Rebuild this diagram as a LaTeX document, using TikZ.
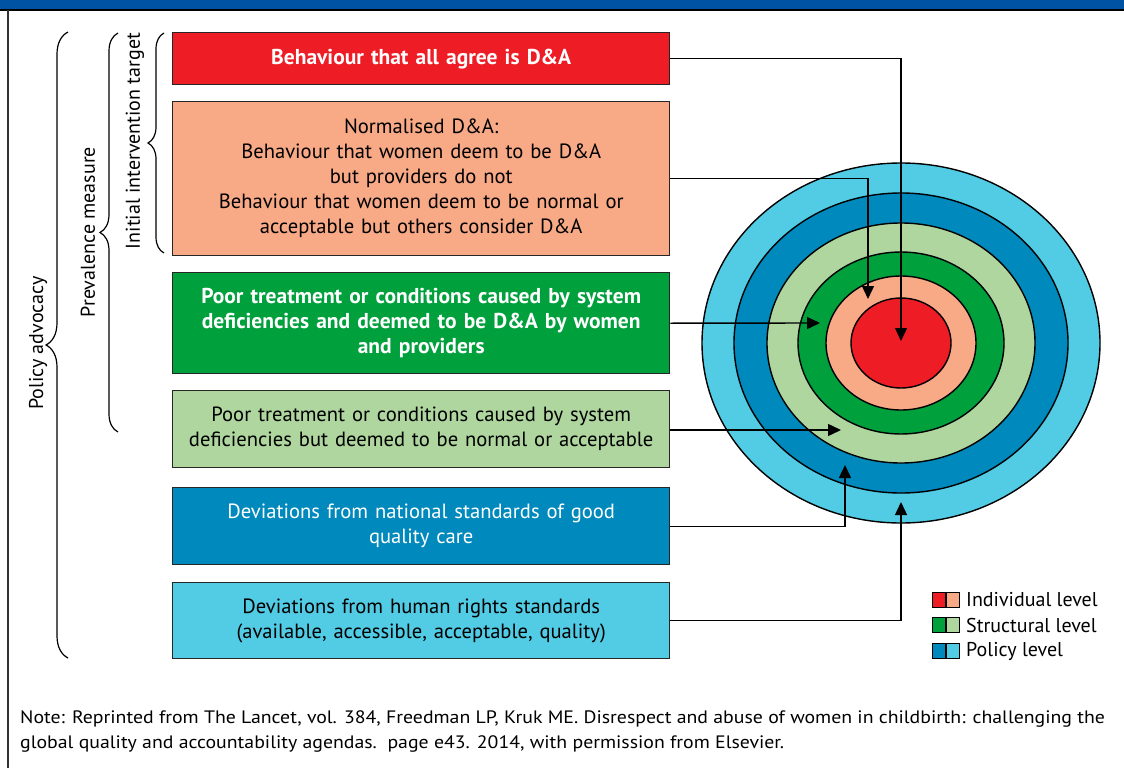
\documentclass[tikz,border=0pt]{standalone}
\usepackage{fontspec}
\setmainfont{PT Sans}
\newfontfamily\notefont{PT Sans}[FakeStretch=1.1]
\usetikzlibrary{arrows.meta,decorations.pathreplacing,positioning}

\definecolor{barblue}{HTML}{0052A2}
\definecolor{dared}{HTML}{EE1C25}
\definecolor{dasalmon}{HTML}{F8A986}
\definecolor{dagreen}{HTML}{00A03C}
\definecolor{dalgreen}{HTML}{AED69E}
\definecolor{dablue}{HTML}{0089BC}
\definecolor{dalblue}{HTML}{52CBE4}

\tikzset{
	dabox/.style={draw=black!85, line width=1.4pt, minimum width=497pt, text width=490pt, align=center, anchor=north west, inner sep=0pt, font=\fontsize{20.6}{25}\selectfont},
	boldbox/.style={text=white, font=\fontsize{21.5}{25}\selectfont\bfseries},
	link/.style={line width=1.4pt, -{Triangle[length=13pt,width=12pt]}},
	bracket/.style={decorate, decoration={brace, amplitude=#1}, line width=1.2pt},
	legsq/.style={draw=black, line width=1.2pt, minimum width=13pt, minimum height=15pt, inner sep=0pt},
	sidelab/.style={rotate=90, font=\fontsize{20}{22}\selectfont},
	leglab/.style={anchor=west, inner sep=0pt, font=\fontsize{20}{22}\selectfont},
}

\begin{document}
\begin{tikzpicture}[x=1pt, y=-1pt]
			\useasboundingbox (0,0) rectangle (1124,768);
			%frame
			\fill[barblue] (0,0) rectangle (1124,9);
			\draw[line width=2pt] (0,10) -- (1124,10);
			\draw[line width=1.4pt, black!80] (8,10) -- (8,768);
			
			%boxes
			\node[dabox, boldbox, fill=dared, minimum height=52pt] (agree) at (172,32) {Behaviour that all agree is D\&A};
			\node[dabox, fill=dasalmon, minimum height=154pt] (normal) at (172,101) {Normalised D\&A:\\Behaviour that women deem to be D\&A\\but providers do not\\Behaviour that women deem to be normal or\\acceptable but others consider D\&A};
			\node[dabox, boldbox, fill=dagreen, minimum height=101pt] (sysda) at (172,272) {Poor treatment or conditions caused by system\\deficiencies and deemed to be D\&A by women\\and providers};
			\node[dabox, fill=dalgreen, minimum height=77pt] (sysok) at (172,390) {Poor treatment or conditions caused by system\\deficiencies but deemed to be normal or acceptable};
			\node[dabox, fill=dablue, minimum height=77pt, text=white] (natstd) at (172,487) {Deviations from national standards of good\\quality care};
			\node[dabox, fill=dalblue, minimum height=76pt] (rights) at (172,582) {Deviations from human rights standards\\(available, accessible, acceptable, quality)};
			
			%braces
			\draw[bracket=22pt] (68,658) -- (68,32);
			\draw[bracket=18pt] (118,432) -- (118,33);
			\draw[bracket=16pt] (164,253) -- (164,33);
			\node[sidelab] (advocacy) at (38,343) {Policy advocacy};
			\node[sidelab] (prevalence) at (88,232) {Prevalence measure};
			\node[sidelab] (initial) at (135,141) {Initial intervention target};
			
			%rings
			\coordinate (ctr) at (901,343);
			\foreach \rx/\ry/\col in {199/180/dalblue, 167/150/dablue, 134/120/dalgreen, 103/91/dagreen, 75/67/dasalmon, 50/45/dared}{
				\draw[line width=1.4pt, fill=\col] (ctr) ellipse [x radius=\rx, y radius=\ry];
			}
			
			%arrows
			\coordinate (toagree) at (901,341);
			\coordinate (tonormal) at (868,299);
			\coordinate (tosysda) at (820,323);
			\coordinate (tosysok) at (841,430);
			\coordinate (tonatstd) at (845,465);
			\coordinate (torights) at (901,502);
			\draw[link] (agree.east) -| (toagree);
			\draw[link] (normal.east) -| (tonormal);
			\draw[link] (sysda.east) -- (tosysda);
			\draw[link] (sysok.east |- tosysok) -- (tosysok);
			\draw[link] (natstd.east) -| (tonatstd);
			\draw[link] (rights.east) -| (torights);
			
			%legend
			\node[legsq, fill=dared] (ind1) at (939,600) {};
			\node[legsq, fill=dasalmon, right=0pt of ind1] (ind2) {};
			\node[legsq, fill=dagreen] (str1) at (939,625) {};
			\node[legsq, fill=dalgreen, right=0pt of str1] (str2) {};
			\node[legsq, fill=dablue] (pol1) at (939,651) {};
			\node[legsq, fill=dalblue, right=0pt of pol1] (pol2) {};
			\node[leglab] (indlab) at (966,600) {Individual level};
			\node[leglab] (strlab) at (966,625) {Structural level};
			\node[leglab] (pollab) at (966,651) {Policy level};
			
			%note
			\node[anchor=north west, inner sep=0pt, align=left, font=\notefont\fontsize{18}{25}\selectfont] (note) at (20,710) {Note: Reprinted from The Lancet, vol. 384, Freedman LP, Kruk ME. Disrespect and abuse of women in childbirth: challenging the\\global quality and accountability agendas.\ \ page e43. 2014, with permission from Elsevier.};
		\end{tikzpicture}
\end{document}
